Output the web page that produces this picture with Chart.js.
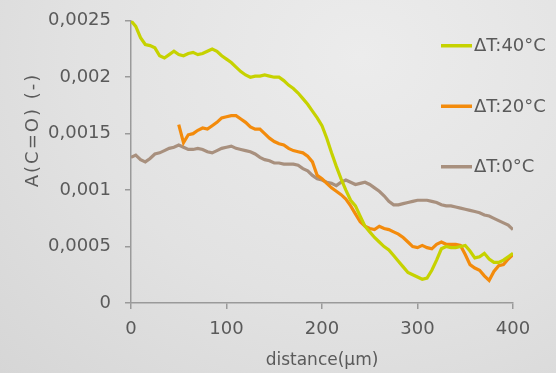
<!DOCTYPE html>
<html>
<head>
<meta charset="utf-8">
<script src="https://cdn.jsdelivr.net/npm/chart.js@4.4.1/dist/chart.umd.min.js"></script>
<style>
  html, body { margin: 0; padding: 0; }
  body {
    width: 556px; height: 373px; overflow: hidden;
    background: radial-gradient(ellipse at 65% 15%, #ececec 0%, #e2e2e2 55%, #d6d6d6 100%);
  }
  canvas { display: block; }
</style>
</head>
<body>
<canvas id="chart" width="556" height="373"></canvas>
<script>
// distance in µm, every 5 µm
var distance = [];
for (var d = 0; d <= 400; d += 5) distance.push(d);

var labels = ['ΔT:40°C', 'ΔT:20°C', 'ΔT:0°C'];
var colors = ['#c6d200', '#f38b0c', '#a8907e'];

var dT40 = [
  0.00250, 0.00245, 0.00235, 0.00229, 0.00228, 0.00226, 0.00219, 0.00217, 0.00220, 0.00223,
  0.00220, 0.00219, 0.00221, 0.00222, 0.00220, 0.00221, 0.00223, 0.00225, 0.00223, 0.00219,
  0.00216, 0.00213, 0.00209, 0.00205, 0.00202, 0.00200, 0.00201, 0.00201, 0.00202, 0.00201,
  0.00200, 0.00200, 0.00197, 0.00193, 0.00190, 0.00186, 0.00181, 0.00176, 0.00170, 0.00164,
  0.00157, 0.00146, 0.00133, 0.00121, 0.00110, 0.00100, 0.00091, 0.00086, 0.00077, 0.00068,
  0.00063, 0.00058, 0.00054, 0.00050, 0.00047, 0.00042, 0.00037, 0.00032, 0.00027, 0.00025,
  0.00023, 0.00021, 0.00022, 0.00029, 0.00038, 0.00048, 0.00050, 0.00049, 0.00049, 0.00050,
  0.00051, 0.00046, 0.00040, 0.00041, 0.00044, 0.00039, 0.00036, 0.00036, 0.00038, 0.00041,
  0.00044
];

// no measurement before 50 µm
var dT20 = [
  null, null, null, null, null, null, null, null, null, null,
  0.00158, 0.00142, 0.00149, 0.00150, 0.00153, 0.00155, 0.00154, 0.00157, 0.00160, 0.00164,
  0.00165, 0.00166, 0.00166, 0.00163, 0.00160, 0.00156, 0.00154, 0.00154, 0.00150, 0.00146,
  0.00143, 0.00141, 0.00140, 0.00137, 0.00135, 0.00134, 0.00133, 0.00130, 0.00125, 0.00113,
  0.00110, 0.00106, 0.00102, 0.00099, 0.00096, 0.00092, 0.00086, 0.00079, 0.00072, 0.00068,
  0.00066, 0.00065, 0.00068, 0.00066, 0.00065, 0.00063, 0.00061, 0.00058, 0.00054, 0.00050,
  0.00049, 0.00051, 0.00049, 0.00048, 0.00052, 0.00054, 0.00052, 0.00052, 0.00052, 0.00051,
  0.00043, 0.00034, 0.00031, 0.00029, 0.00024, 0.00020, 0.00028, 0.00033, 0.00034, 0.00039,
  0.00043
];

var dT0 = [
  0.00129, 0.00131, 0.00127, 0.00125, 0.00128, 0.00132, 0.00133, 0.00135, 0.00137, 0.00138,
  0.00140, 0.00138, 0.00136, 0.00136, 0.00137, 0.00136, 0.00134, 0.00133, 0.00135, 0.00137,
  0.00138, 0.00139, 0.00137, 0.00136, 0.00135, 0.00134, 0.00132, 0.00129, 0.00127, 0.00126,
  0.00124, 0.00124, 0.00123, 0.00123, 0.00123, 0.00122, 0.00119, 0.00117, 0.00113, 0.00110,
  0.00109, 0.00107, 0.00106, 0.00104, 0.00107, 0.00109, 0.00107, 0.00105, 0.00106, 0.00107,
  0.00105, 0.00102, 0.00099, 0.00095, 0.00090, 0.00087, 0.00087, 0.00088, 0.00089, 0.00090,
  0.00091, 0.00091, 0.00091, 0.00090, 0.00089, 0.00087, 0.00086, 0.00086, 0.00085, 0.00084,
  0.00083, 0.00082, 0.00081, 0.00080, 0.00078, 0.00077, 0.00075, 0.00073, 0.00071, 0.00069,
  0.00065
];

var xTicks = [0, 100, 200, 300, 400];
var yTicks = [0, 0.0005, 0.001, 0.0015, 0.002, 0.0025];
var yTitle = 'A(C=O) (-)';
var xTitle = 'distance(µm)';

var textColor = '#5a5a5a';
var axisColor = '#9a9a9a';
var fontFam = "'DejaVu Sans', sans-serif";

function points(vals) {
  var out = [];
  for (var i = 0; i < distance.length; i++) {
    out.push({ x: distance[i], y: vals[i] });
  }
  return out;
}

// legend inside the plot + rotated y title
var overlay = {
  id: 'overlay',
  afterDraw: function (chart) {
    var ctx = chart.ctx;
    var area = chart.chartArea;
    ctx.save();
    ctx.font = '18px ' + fontFam;
    ctx.textBaseline = 'middle';
    chart.data.datasets.forEach(function (ds, i) {
      var y = area.top + 25 + i * 60.5;
      var x = area.right - 72;
      ctx.strokeStyle = ds.borderColor;
      ctx.lineWidth = 3.5;
      ctx.beginPath();
      ctx.moveTo(x, y);
      ctx.lineTo(x + 31, y);
      ctx.stroke();
      ctx.fillStyle = textColor;
      ctx.fillText(ds.label, x + 33, y + 1);
    });
    ctx.translate(33, 130);
    ctx.rotate(-Math.PI / 2);
    ctx.textAlign = 'center';
    ctx.font = '18px ' + fontFam;
    ctx.letterSpacing = '2px';
    ctx.fillText(yTitle, 0, 0);
    ctx.restore();
  }
};

var ctx = document.getElementById('chart').getContext('2d');
var chart = new Chart(ctx, {
  type: 'line',
  data: {
    datasets: [
      { label: labels[0], data: points(dT40), borderColor: colors[0], backgroundColor: colors[0] },
      { label: labels[1], data: points(dT20), borderColor: colors[1], backgroundColor: colors[1] },
      { label: labels[2], data: points(dT0), borderColor: colors[2], backgroundColor: colors[2] }
    ]
  },
  options: {
    responsive: false,
    animation: false,
    devicePixelRatio: 1,
    layout: { padding: { left: 34, right: 43, top: 0, bottom: 2 } },
    elements: {
      line: { borderWidth: 3.2, tension: 0 },
      point: { radius: 0 }
    },
    plugins: {
      legend: { display: false },
      tooltip: { enabled: false }
    },
    scales: {
      x: {
        type: 'linear',
        min: 0, max: 400,
        afterBuildTicks: function (axis) { axis.ticks = xTicks.map(function (v) { return { value: v }; }); },
        border: { color: axisColor, width: 1.5 },
        grid: { drawOnChartArea: false, color: axisColor, lineWidth: 1.5, tickLength: 6 },
        ticks: { color: textColor, font: { family: fontFam, size: 18 }, padding: 10, maxRotation: 0 },
        title: { display: true, text: xTitle, color: textColor, font: { family: fontFam, size: 17 }, padding: { top: 0, bottom: 0 } }
      },
      y: {
        min: 0, max: 0.0025,
        afterBuildTicks: function (axis) { axis.ticks = yTicks.map(function (v) { return { value: v }; }); },
        border: { color: axisColor, width: 1.5 },
        grid: { drawOnChartArea: false, color: axisColor, lineWidth: 1.5, tickLength: 6 },
        ticks: {
          color: textColor, font: { family: fontFam, size: 18, lineHeight: 0.75 }, padding: 14,
          callback: function (v) { return String(Number(v.toFixed(4))).replace('.', ','); }
        }
      }
    }
  },
  plugins: [overlay]
});
</script>
</body>
</html>
